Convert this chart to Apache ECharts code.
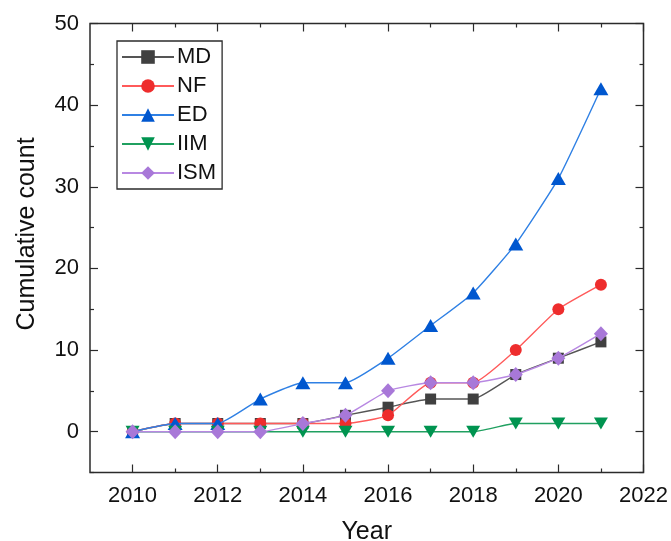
<!DOCTYPE html>
<html>
<head>
<meta charset="utf-8">
<script src="https://cdn.jsdelivr.net/npm/echarts@6/dist/echarts.min.js"></script>
<style>
  html, body { margin: 0; padding: 0; background: #fff; }
  #chart { width: 671px; height: 541px; }
</style>
</head>
<body>
<div id="chart"></div>
<script>
// Cumulative publication counts per research topic, 2010-2021
const years = [2010, 2011, 2012, 2013, 2014, 2015, 2016, 2017, 2018, 2019, 2020, 2021];
const mdCounts  = [0, 1, 1, 1, 1, 2, 3, 4, 4, 7, 9, 11];
const nfCounts  = [0, 1, 1, 1, 1, 1, 2, 6, 6, 10, 15, 18];
const edCounts  = [0, 1, 1, 4, 6, 6, 9, 13, 17, 23, 31, 42];
const iimCounts = [0, 0, 0, 0, 0, 0, 0, 0, 0, 1, 1, 1];
const ismCounts = [0, 0, 0, 0, 1, 2, 5, 6, 6, 7, 9, 12];

const seriesNames = ['MD', 'NF', 'ED', 'IIM', 'ISM'];

// Tick positions
const xMajorTicks = [2010, 2012, 2014, 2016, 2018, 2020, 2022];
const xMinorTicks = [2011, 2013, 2015, 2017, 2019, 2021];
const yMajorTicks = [0, 10, 20, 30, 40, 50];
const yMinorTicks = [-5, 5, 15, 25, 35, 45];

const X_MIN = 2009, X_MAX = 2022, Y_MIN = -5, Y_MAX = 50;

const FONT = 'Liberation Sans, Arial, sans-serif';
const FRAME = '#2b2b2b';

function pairs(values) {
  return years.map((y, i) => [y, values[i]]);
}

function xAxisDef(position, ticks, len, opts) {
  return Object.assign({
    type: 'value', position: position, min: X_MIN, max: X_MAX,
    axisLine: { show: false, onZero: false },
    axisTick: { show: true, inside: true, length: len, customValues: ticks,
                lineStyle: { color: FRAME, width: 1.2 } },
    axisLabel: { show: false },
    splitLine: { show: false }
  }, opts || {});
}

function yAxisDef(position, ticks, len, opts) {
  return Object.assign({
    type: 'value', position: position, min: Y_MIN, max: Y_MAX,
    axisLine: { show: false, onZero: false },
    axisTick: { show: true, inside: true, length: len, customValues: ticks,
                lineStyle: { color: FRAME, width: 1.2 } },
    axisLabel: { show: false },
    splitLine: { show: false }
  }, opts || {});
}

const chart = echarts.init(document.getElementById('chart'), null, { renderer: 'canvas' });

const lineColors   = ['#555555', '#ff5a5a', '#2f80e4', '#20a060', '#b888e2'];
const markerColors = ['#404040', '#ee2d2d', '#0057cf', '#009450', '#a878d8'];
const symbols      = ['rect', 'circle', 'triangle', 'triangle', 'diamond'];
const symbolSizes  = [[11, 11], [12, 12], [15, 13], [14, 12], [14, 15]];
const symbolRotate = [0, 0, 0, 180, 0];
const dataSets     = [mdCounts, nfCounts, edCounts, iimCounts, ismCounts];

const series = seriesNames.map((name, i) => ({
  name: name,
  type: 'line',
  xAxisIndex: 0,
  yAxisIndex: 0,
  data: pairs(dataSets[i]),
  smooth: 0.15,
  symbol: symbols[i],
  symbolSize: symbolSizes[i],
  symbolRotate: symbolRotate[i],
  showAllSymbol: true,
  lineStyle: { color: lineColors[i], width: 1.4 },
  itemStyle: { color: markerColors[i] },
  z: 2 + i
}));

chart.setOption({
  animation: false,
  backgroundColor: '#ffffff',
  grid: {
    left: 90, right: 27.5, top: 23.5, bottom: 68.5,
    outerBoundsMode: 'none',
    containLabel: false,
    show: true, borderColor: FRAME, borderWidth: 1.5, backgroundColor: 'transparent'
  },
  legend: {
    left: 117, top: 41,
    orient: 'vertical',
    data: seriesNames,
    itemWidth: 52, itemHeight: 17, itemGap: 7,
    padding: [5, 6, 5, 4],
    borderColor: FRAME, borderWidth: 1.3,
    textStyle: { fontFamily: FONT, fontSize: 22, color: '#111', lineHeight: 22, padding: [0, 0, 0, -2] }
  },
  xAxis: [
    xAxisDef('bottom', xMajorTicks, 8, {
      name: 'Year', nameLocation: 'middle', nameGap: 47,
      nameTextStyle: { fontFamily: FONT, fontSize: 25, color: '#111' },
      axisLabel: { show: true, customValues: xMajorTicks, margin: 12,
                   formatter: v => String(v),
                   fontFamily: FONT, fontSize: 22, color: '#111' }
    }),
    xAxisDef('bottom', xMinorTicks, 4),
    xAxisDef('top', xMajorTicks, 8),
    xAxisDef('top', xMinorTicks, 4)
  ],
  yAxis: [
    yAxisDef('left', yMajorTicks, 8, {
      name: 'Cumulative count', nameLocation: 'middle', nameGap: 50, nameRotate: 90,
      nameTextStyle: { fontFamily: FONT, fontSize: 25, color: '#111', padding: [0, 0, 0, 28] },
      axisLabel: { show: true, customValues: yMajorTicks, margin: 11,
                   fontFamily: FONT, fontSize: 22, color: '#111' }
    }),
    yAxisDef('left', yMinorTicks, 4),
    yAxisDef('right', yMajorTicks, 8),
    yAxisDef('right', yMinorTicks, 4)
  ],
  series: series
});
</script>
</body>
</html>
